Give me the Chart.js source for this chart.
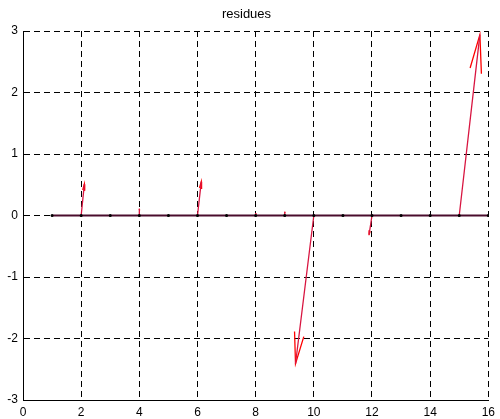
<!DOCTYPE html>
<html>
<head>
<meta charset="utf-8">
<script src="https://cdn.jsdelivr.net/npm/chart.js@4"></script>
<style>
  html, body { margin: 0; padding: 0; background: #fff; }
  #wrap { width: 500px; height: 419px; }
</style>
</head>
<body>
<div id="wrap"><canvas id="myChart" width="500" height="419"></canvas></div>
<script>
// base points of the quiver (all on y = 0)
const baseX = [1, 2, 3, 4, 5, 6, 7, 8, 9, 10, 11, 12, 13, 14, 15, 16];
const baseY = [0, 0, 0, 0, 0, 0, 0, 0, 0, 0, 0, 0, 0, 0, 0, 0];
// residue vectors
const residU = [0, 0.11, 0, 0, 0, 0.13, 0, 0, 0, -0.63, 0, -0.1, 0, 0, 0.71, 0];
const residV = [0, 0.51, 0, 0.11, 0, 0.55, 0, 0.04, 0.06, -2.41, 0, -0.31, 0, 0, 2.94, 0];
const xTicks = [0, 2, 4, 6, 8, 10, 12, 14, 16];
const yTicks = [-3, -2, -1, 0, 1, 2, 3];

// matlab-like arrow heads
const headAlpha = 0.2;
const headBeta = 0.33;

const shafts = [];
const heads = [];
baseX.forEach((bx, i) => {
  const by = baseY[i];
  const u = residU[i];
  const v = residV[i];
  if (u === 0 && v === 0) return;
  const tx = bx + u;
  const ty = by + v;
  shafts.push({ x: bx, y: by }, { x: tx, y: ty }, { x: tx, y: null });
  heads.push(
    { x: tx - headAlpha * (u + headBeta * v), y: ty - headAlpha * (v - headBeta * u) },
    { x: tx, y: ty },
    { x: tx - headAlpha * (u - headBeta * v), y: ty - headAlpha * (v + headBeta * u) },
    { x: tx, y: null }
  );
});
const basePts = baseX.map((x, i) => ({ x: x, y: baseY[i] }));

const font = { family: "'Liberation Sans', Arial, sans-serif", size: 12 };

const ctx = document.getElementById("myChart").getContext("2d");
const myChart = new Chart(ctx, {
  type: "scatter",
  data: {
    datasets: [
      {
        data: shafts,
        showLine: true,
        spanGaps: false,
        borderColor: "#d81540",
        borderWidth: 1.3,
        pointRadius: 0,
        order: 3,
      },
      {
        data: heads,
        showLine: true,
        spanGaps: false,
        borderColor: "#ff0000",
        borderWidth: 1.3,
        pointRadius: 0,
        order: 3,
      },
      {
        // line joining the base points
        data: basePts,
        showLine: true,
        borderColor: "#4a0c2c",
        borderWidth: 2,
        pointRadius: 0,
        order: 2,
      },
      {
        data: basePts,
        showLine: false,
        pointRadius: 1.5,
        pointBackgroundColor: "#000",
        pointBorderWidth: 0,
        order: 1,
      },
    ],
  },
  options: {
    responsive: false,
    animation: false,
    layout: { padding: { left: 0, right: 7, top: 0, bottom: 0 } },
    scales: {
      x: {
        type: "linear",
        min: 0,
        max: 16,
        afterBuildTicks: (scale) => {
          scale.ticks = xTicks.map((v) => ({ value: v }));
        },
        afterFit: (scale) => {
          scale.height = 19;
        },
        ticks: { color: "#000", font: font, padding: 5, maxRotation: 0 },
        grid: { color: "#000", lineWidth: 1, drawTicks: false },
        border: { color: "#000", width: 1, dash: [6, 4] },
      },
      y: {
        type: "linear",
        min: -3,
        max: 3,
        afterBuildTicks: (scale) => {
          scale.ticks = yTicks.map((v) => ({ value: v }));
        },
        afterFit: (scale) => {
          scale.width = 23;
        },
        ticks: { color: "#000", font: font, padding: 5 },
        grid: { color: "#000", lineWidth: 1, drawTicks: false },
        border: { color: "#000", width: 1, dash: [6, 4] },
      },
    },
    plugins: {
      legend: { display: false },
      tooltip: { enabled: false },
      title: {
        display: true,
        text: "residues",
        color: "#000",
        font: { family: "'Liberation Sans', Arial, sans-serif", size: 13, weight: "normal" },
        padding: { top: 7, bottom: 8.4 },
      },
    },
  },
});
</script>
</body>
</html>
